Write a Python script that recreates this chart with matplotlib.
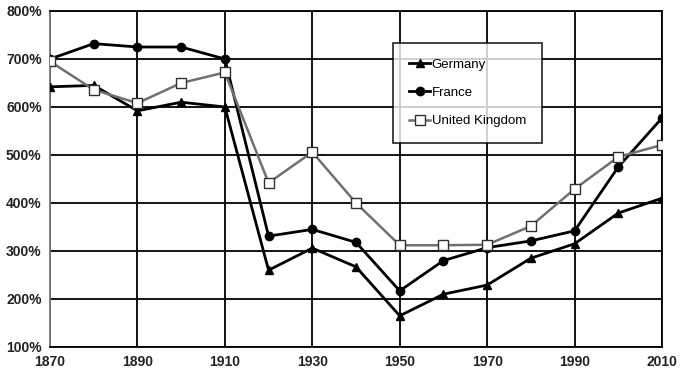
import numpy as np
import matplotlib.pyplot as plt

plt.rcParams['font.family'] = ['Liberation Sans', 'DejaVu Sans']

years = np.arange(1870, 2011, 10)
germany = [642, 645, 592, 610, 600, 260, 306, 267, 165, 210, 229, 285, 315, 379, 410]
france = [700, 732, 725, 725, 700, 331, 345, 318, 217, 280, 307, 321, 342, 475, 577]
uk = [695, 636, 608, 650, 672, 442, 506, 400, 312, 312, 313, 352, 429, 496, 521]

fig = plt.figure(figsize=(6.87, 3.74), dpi=100)
ax = fig.add_axes([0.0728, 0.0722, 0.8908, 0.8984])

ax.plot(years, germany, color='black', lw=2, marker='^', ms=6, label='Germany', zorder=3)
ax.plot(years, france, color='black', lw=2, marker='o', ms=6, label='France', zorder=3)
ax.plot(years, uk, color='#707070', lw=1.8, marker='s', ms=6.5, mfc='white',
        mec='#303030', mew=1, label='United Kingdom', zorder=4)

ax.set_xlim(1870, 2010)
ax.set_ylim(100, 800)
ax.set_xticks(np.arange(1870, 2011, 20))
ax.set_yticks(np.arange(100, 801, 100))
ax.set_yticklabels([f'{v}%' for v in range(100, 801, 100)])
ax.tick_params(length=0, labelsize=10, pad=6)
for lab in ax.get_xticklabels() + ax.get_yticklabels():
    lab.set_fontweight('bold')
    lab.set_color('#222222')
ax.grid(True, color='black', lw=1.3)
for s in ax.spines.values():
    s.set_color('black')
    s.set_linewidth(1.3)
ax.spines['left'].set_color('#777777')

leg = ax.legend(loc='upper left', bbox_to_anchor=(0.561, 0.905), fontsize=9.5,
                frameon=True, fancybox=False, edgecolor='black', handlelength=1.6,
                borderpad=1.2, labelspacing=1.2, borderaxespad=0, handletextpad=0.1)
leg.get_frame().set_linewidth(1.3)

fig.savefig('out.png', dpi=100)
